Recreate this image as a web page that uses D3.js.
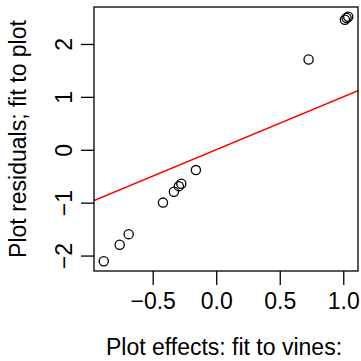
<!DOCTYPE html>
<html>
<head>
<meta charset="utf-8">
<script src="https://cdn.jsdelivr.net/npm/d3@7"></script>
<style>
  html, body { margin: 0; padding: 0; background: #fff; }
  text { font-family: "Liberation Sans", Arial, sans-serif; fill: #000; }
</style>
</head>
<body>
<div id="chart"></div>
<script>
// DATA
const plotEffects = [-0.885, -0.760, -0.689, -0.419, -0.333, -0.294, -0.275, -0.160, 0.727, 1.013, 1.026, 1.039];
const plotResiduals = [-2.107, -1.795, -1.595, -0.999, -0.793, -0.688, -0.643, -0.384, 1.707, 2.458, 2.490, 2.514];
const xTicks = [-0.5, 0.0, 0.5, 1.0];
const yTicks = [-2, -1, 0, 1, 2];
const lineIntercept = 0;
const lineSlope = 1;
const xTitle = 'Plot effects: fit to vines:';
const yTitle = 'Plot residuals; fit to plot';

const W = 361, H = 361;
const m = { top: 7, right: 3, bottom: 90, left: 94 };
const fs = 23;

const svg = d3.select('#chart').append('svg').attr('width', W).attr('height', H);

// R style 4% padding
function pad(ext) {
  const d = (ext[1] - ext[0]) * 0.04;
  return [ext[0] - d, ext[1] + d];
}

const xScale = d3.scaleLinear().domain(pad(d3.extent(plotEffects))).range([m.left, W - m.right]);
const yScale = d3.scaleLinear().domain(pad(d3.extent(plotResiduals))).range([H - m.bottom, m.top]);

// CLIP
svg.append('clipPath').attr('id', 'clip')
  .append('rect')
  .attr('x', m.left).attr('y', m.top)
  .attr('width', W - m.right - m.left).attr('height', H - m.bottom - m.top);

// FIT LINE
const xd = xScale.domain();
svg.append('line')
  .attr('clip-path', 'url(#clip)')
  .attr('x1', xScale(xd[0])).attr('y1', yScale(lineIntercept + lineSlope * xd[0]))
  .attr('x2', xScale(xd[1])).attr('y2', yScale(lineIntercept + lineSlope * xd[1]))
  .attr('stroke', '#ff0000').attr('stroke-width', 1.5);

// POINTS
svg.selectAll('circle.pt')
  .data(plotEffects.map((x, i) => [x, plotResiduals[i]]))
  .enter().append('circle')
  .attr('class', 'pt')
  .attr('cx', d => xScale(d[0]))
  .attr('cy', d => yScale(d[1]))
  .attr('r', 4.6)
  .attr('fill', 'none')
  .attr('stroke', '#000')
  .attr('stroke-width', 1.3);

// BOX
svg.append('rect')
  .attr('x', m.left).attr('y', m.top)
  .attr('width', W - m.right - m.left).attr('height', H - m.bottom - m.top)
  .attr('fill', 'none').attr('stroke', '#000').attr('stroke-width', 1.3);

// X AXIS
const xAxis = svg.append('g')
  .attr('transform', `translate(0,${H - m.bottom})`)
  .call(d3.axisBottom(xScale).tickValues(xTicks).tickSize(14).tickPadding(8)
    .tickFormat(d3.format('.1f')));
xAxis.select('.domain').remove();
xAxis.selectAll('.tick line').attr('stroke-width', 1.3);
xAxis.selectAll('.tick text')
  .attr('font-size', fs).attr('font-family', '"Liberation Sans", Arial, sans-serif')
  .text(d => d3.format('.1f')(d).replace('-', '\u2212'));

// Y AXIS
const yAxis = svg.append('g')
  .attr('transform', `translate(${m.left},0)`)
  .call(d3.axisLeft(yScale).tickValues(yTicks).tickSize(13).tickFormat(d => String(d).replace('-', '\u2212')));
yAxis.select('.domain').remove();
yAxis.selectAll('.tick line').attr('stroke-width', 1.3);
yAxis.selectAll('.tick text')
  .attr('font-size', fs).attr('font-family', '"Liberation Sans", Arial, sans-serif')
  .attr('x', null).attr('dy', null)
  .attr('text-anchor', 'middle')
  .attr('transform', 'translate(-22,0) rotate(-90)');

// TITLES
svg.append('text')
  .attr('x', (m.left + W - m.right) / 2 - 2).attr('y', 355)
  .attr('text-anchor', 'middle').attr('font-size', fs)
  .text(xTitle);

svg.append('text')
  .attr('transform', `translate(26,${(m.top + H - m.bottom) / 2}) rotate(-90)`)
  .attr('text-anchor', 'middle').attr('font-size', fs)
  .text(yTitle);
</script>
</body>
</html>
